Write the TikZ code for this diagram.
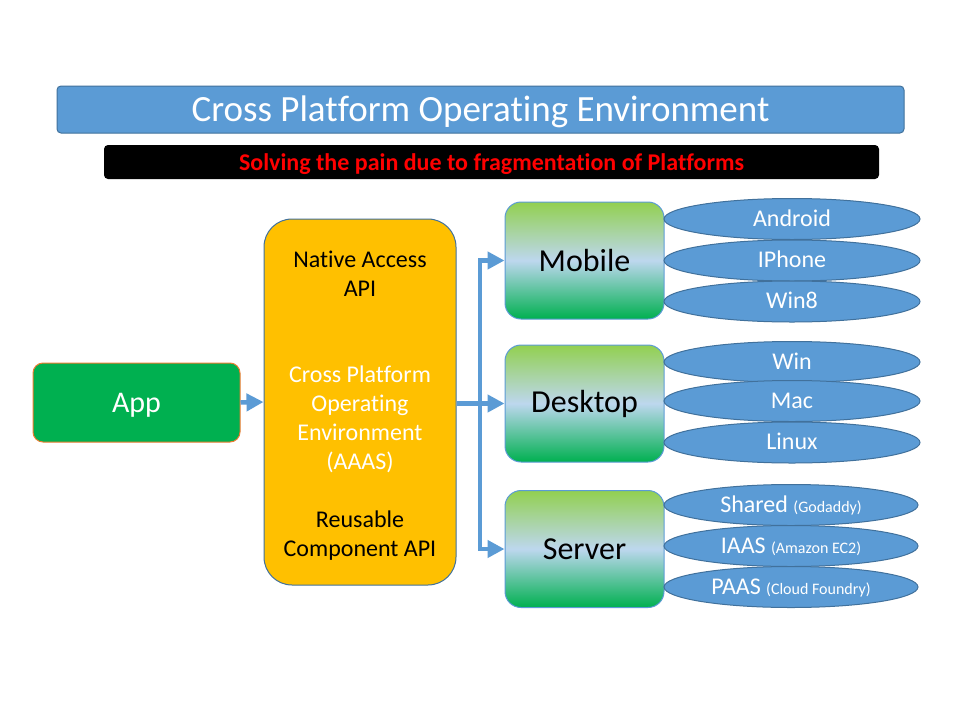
\documentclass[tikz,border=0pt]{standalone}
\usepackage{fontspec}
\setmainfont{Carlito}[Ligatures=NoCommon]
\usetikzlibrary{arrows.meta,shapes.geometric}
\definecolor{titleblue}{HTML}{5B9BD5}
\definecolor{edgeblue}{HTML}{41719C}
\definecolor{appgreen}{HTML}{00B050}
\definecolor{apporange}{HTML}{ED7D31}
\definecolor{corefill}{HTML}{FFC000}
\definecolor{gradtop}{HTML}{92D050}
\definecolor{gradmid}{HTML}{BDD7EE}
\definecolor{gradbot}{HTML}{00B050}
\pgfdeclareverticalshading{platshade}{100bp}{color(0bp)=(gradbot); color(25bp)=(gradbot); color(50bp)=(gradmid); color(75bp)=(gradtop); color(100bp)=(gradtop)}
\def\fsz#1#2{\fontsize{#1}{#2}\selectfont}
\tikzset{
	platbox/.style={draw=titleblue, line width=1pt, rounded corners=16pt, shading=platshade, minimum width=159pt, minimum height=117pt, inner sep=0pt, font=\fsz{32}{38}},
	osoval/.style={ellipse, draw=edgeblue, line width=1pt, fill=titleblue, minimum width=256pt, minimum height=41pt, inner sep=0pt, text=white, text height=19pt, text depth=5pt, font=\fsz{24}{28}},
	feed/.style={draw=titleblue, line width=4.5pt},
	feedtip/.style={feed, -{Triangle[length=17pt,width=17pt]}},
}
\begin{document}
\begin{tikzpicture}[x=1pt, y=1pt]
		%%%%% START %%%%%
		\useasboundingbox[fill=white] (0, 0) rectangle (960, -720);
		
		\node[draw=edgeblue, line width=1pt, fill=titleblue, rounded corners=4pt, minimum width=847pt, minimum height=47pt, text=white, text height=32pt, text depth=8pt, inner sep=0pt, font=\fsz{37}{44}] (title) at (480.5, -109.5) {Cross Platform Operating Environment};
		\node[fill=black, rounded corners=4pt, minimum width=775pt, minimum height=34pt, text=red, text height=21pt, text depth=5pt, inner sep=0pt, font=\bfseries\fsz{24}{28}] (pain) at (491.5, -162) {Solving the pain due to fragmentation of Platforms};
		
		\node[draw=apporange, line width=1pt, fill=appgreen, rounded corners=10pt, minimum width=207pt, minimum height=79pt, text=white, text height=26pt, text depth=6pt, inner sep=0pt, font=\fsz{30}{36}] (app) at (136.5, -402.5) {App};
		
		\node[draw=edgeblue, line width=1pt, fill=corefill, rounded corners=28pt, minimum width=192pt, minimum height=366pt] (core) at (360, -402) {};
		\node[align=center, font=\fsz{24}{29}] (native) at (360, -273.5) {Native Access\\API};
		\node[align=center, text=white, font=\fsz{24}{29}] (cpoe) at (360, -419) {Cross Platform\\Operating\\Environment\\(AAAS)};
		\node[align=center, font=\fsz{24}{29}] (reuse) at (360, -535.5) {Reusable\\Component API};
		
		\node[platbox] (mobile) at (584.5, -260.5) {Mobile};
		\node[platbox] (desktop) at (584.5, -403.5) {Desktop};
		\node[platbox] (server) at (584.5, -549) {Server};
		
		\node[osoval] (android) at (792, -219) {Android};
		\node[osoval] (iphone) at (792, -260.5) {IPhone};
		\node[osoval] (win8) at (792, -301.5) {Win8};
		
		\node[osoval] (win) at (792, -362) {Win};
		\node[osoval] (mac) at (792, -401) {Mac};
		\node[osoval] (linux) at (792, -442.5) {Linux};
		
		\node[osoval, minimum width=254pt] (shared) at (791, -505) {Shared {\fsz{16}{18}(Godaddy)}};
		\node[osoval, minimum width=254pt] (iaas) at (791, -546) {IAAS {\fsz{16}{18}(Amazon EC2)}};
		\node[osoval, minimum width=254pt] (paas) at (791, -587) {PAAS {\fsz{16}{18}(Cloud Foundry)}};
		
		\coordinate (split) at (480, -403.5);
		\draw[feedtip] (app.east) -- (core.west);
		\draw[feed] (core.east |- split) -- (split);
		\draw[feedtip] (split) |- (mobile.west);
		\draw[feedtip] (split) -- (desktop.west);
		\draw[feedtip] (split) |- (server.west);
		%%%%% END %%%%%
	\end{tikzpicture}
\end{document}
